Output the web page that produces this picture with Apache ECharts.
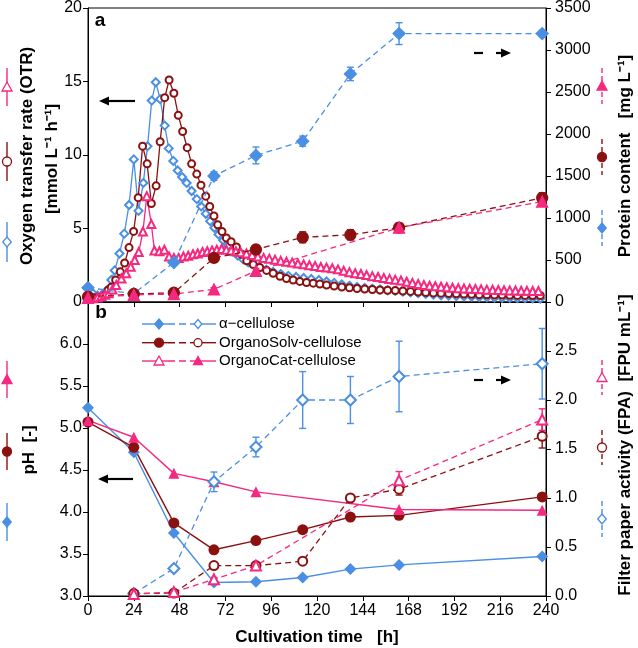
<!DOCTYPE html>
<html><head><meta charset="utf-8">
<script src="https://cdn.jsdelivr.net/npm/echarts@6/dist/echarts.min.js"></script>
<style>html,body{margin:0;padding:0;background:#fff}#c{width:638px;height:648px}</style>
</head><body><div id="c"></div>
<script>
// ---------- DATA ----------
const xTicks = [0,24,48,72,96,120,144,168,192,216,240];

// Panel a: Oxygen transfer rate (OTR) [mmol L-1 h-1]
const otrTimeAlpha = [0,2.5,5,7.5,10,12.2,14,16.5,19,21.5,24,26.5,29,31.2,33.4,35.5,37.8,40.2,42.3,44.7,47,49.3,51.7,54.3,57,59.3,61.7,64,66.2,68.4,70.8,73.2,75.8,78.5,81.3,84,87,90,93.5,97,101,105,109,113,117,121,125,129,133,137,141,145,149,153,157,161,165,169,173,177,181,185,189,193,197,201,205,209,213,217,221,225,229,233,237];
const otrAlpha = [0.95,0.6,0.45,0.5,0.8,1.5,2.15,3.3,4.65,6.6,9.7,6.2,8.1,10.6,13.7,14.95,13.8,12.0,10.45,9.6,8.95,8.5,8.1,7.55,7.0,6.5,6.0,5.5,5.05,4.6,4.2,3.8,3.45,3.15,2.9,2.7,2.5,2.35,2.2,2.05,1.9,1.78,1.7,1.63,1.57,1.5,1.4,1.3,1.2,1.1,1.02,0.95,0.9,0.85,0.8,0.76,0.7,0.65,0.6,0.55,0.5,0.46,0.43,0.4,0.38,0.36,0.34,0.32,0.3,0.29,0.28,0.27,0.26,0.25,0.24];

const otrTimeSolv = [0,2.5,5,7.9,10.5,12.2,14.5,16.9,19.2,21.5,23.9,26.3,28.6,31,33.2,35.7,37.8,40.2,42.5,45,47.3,49.6,52,54.3,57,59.2,61.7,63.8,66,68,70.2,72.5,75,77.8,80.5,83.2,86.6,90,93.6,97,100.6,104,107.5,111,114.5,118,121.5,125,129,133,137,141,145,149,153,157,161,165,169,173,177,181,185,189,193,197,201,205,209,213,217,221,225,229,233,237];
const otrSolv = [0.35,0.3,0.3,0.4,0.8,1.0,1.5,2.05,2.65,3.7,4.8,7.1,10.6,9.4,6.7,7.9,10.9,13.9,15.1,14.2,12.7,11.6,10.5,9.4,8.7,7.95,7.2,6.5,5.85,5.25,4.8,4.35,4.1,3.75,3.25,2.8,2.55,2.35,2.15,1.95,1.75,1.6,1.5,1.4,1.33,1.28,1.22,1.15,1.08,1.02,0.97,0.92,0.88,0.85,0.82,0.8,0.78,0.75,0.72,0.68,0.65,0.62,0.6,0.58,0.56,0.54,0.52,0.5,0.49,0.48,0.47,0.46,0.45,0.45,0.44,0.44];

const otrTimeCat = [0,2.5,5,7,9,10.8,12.8,14.8,17.5,20,22.4,24.5,26.6,28.8,30.8,33.2,34.8,37.4,40,42.5,45,47.5,50,52.5,55,57.5,60,62.5,65,67.5,70,72.5,75,77.5,80,83,86,89,92,95,98,101,104,107,110,113,116,119,122,125,128,131,134,137,140,143,146,149,152,155,158,161,164,167,170,173,176,179,182,185,188,191,194,197,200,203,206,209,212,215,218,221,224,227,230,233,236];
const otrCat = [0.3,0.25,0.3,0.4,0.5,0.6,0.85,1.15,1.6,1.95,2.4,2.85,3.4,4.8,7.2,5.3,3.5,3.45,3.55,3.1,3.0,3.0,3.1,3.15,3.25,3.3,3.4,3.45,3.5,3.55,3.6,3.55,3.5,3.45,3.38,3.3,3.2,3.1,3.0,2.95,2.88,2.8,2.74,2.68,2.62,2.56,2.5,2.45,2.38,2.34,2.3,2.22,2.12,2.03,1.96,1.9,1.83,1.76,1.7,1.63,1.57,1.52,1.46,1.38,1.3,1.22,1.16,1.11,1.07,1.04,1.0,0.97,0.94,0.92,0.9,0.88,0.86,0.84,0.83,0.82,0.8,0.79,0.78,0.77,0.76,0.75,0.75];

// Sampling times (protein, pH, FPA)
const sampleTime = [0,24,45,66,88,112.5,137.5,163,238];

// Panel a: protein content [mg L-1]
const proteinAlpha = [170,100,470,1500,1745,1915,2715,3195,3195];
const proteinAlphaErr = [0,0,30,50,100,60,80,130,30];
const proteinSolv = [60,95,110,525,625,770,800,885,1240];
const proteinSolvErr = [0,20,30,40,50,65,60,50,60];
const proteinCat = [50,85,95,150,370,null,null,885,1195];
const proteinCatErr = [0,15,20,20,30,null,null,50,40];

// Panel b: pH [-]
const phAlpha = [5.24,4.71,3.75,3.16,3.17,3.22,3.32,3.37,3.47];
const phSolv = [5.07,4.77,3.87,3.55,3.66,3.79,3.94,3.96,4.18];
const phCat = [5.09,4.89,4.46,4.36,4.24,null,null,4.03,4.02];

// Panel b: filter paper activity (FPA) [FPU mL-1]
const fpaAlpha = [null,0.025,0.28,1.165,1.52,2.0,2.0,2.24,2.37];
const fpaAlphaErr = [null,0,0.03,0.1,0.1,0.29,0.24,0.36,0.36];
const fpaSolv = [null,0.025,0.03,0.31,0.31,0.355,1.0,1.09,1.63];
const fpaSolvErr = [null,0,0,0.02,0.02,0.02,0.02,0.06,0.12];
const fpaCat = [null,0.02,0.04,0.17,0.31,null,null,1.18,1.80];
const fpaCatErr = [null,0,0,0.02,0.03,null,null,0.09,0.11];

const legendNames = ['\u03b1\u2212cellulose','OrganoSolv-cellulose','OrganoCat-cellulose'];

// ---------- STYLE ----------
const BLUE = '#4a8fe3', RED = '#8b1111', PINK = '#f5297f';
const FONT = '"Liberation Sans", Arial, sans-serif';
const DASH = [6,4];

function pairs(t, v) { return t.map((x, i) => [x, v[i]]); }

function otrSeries(t, v, color, symbol, size) {
  return { type:'line', xAxisIndex:0, yAxisIndex:0, data:pairs(t, v), symbol, symbolSize:size,
    showAllSymbol:true, lineStyle:{color, width:1.3}, itemStyle:{color, borderColor:color, borderWidth:1.1}, z:2 };
}
function dashSeries(xi, yi, t, v, color, symbol, size, z) {
  return { type:'line', xAxisIndex:xi, yAxisIndex:yi, data:pairs(t, v), connectNulls:true, symbol, symbolSize:size,
    lineStyle:{color, width:1.3, type:DASH}, itemStyle:{color, borderColor:color, borderWidth:1.3}, z:z||4 };
}
function solidSeries(xi, yi, t, v, color, symbol, size) {
  return { type:'line', xAxisIndex:xi, yAxisIndex:yi, data:pairs(t, v), connectNulls:true, symbol, symbolSize:size,
    lineStyle:{color, width:1.4}, itemStyle:{color}, z:4 };
}
function errSeries(xi, yi, t, v, e, color) {
  const data = [];
  t.forEach((x, i) => { if (v[i] != null && e[i]) data.push([x, v[i] - e[i], v[i] + e[i]]); });
  return { type:'custom', xAxisIndex:xi, yAxisIndex:yi, data, silent:true, z:3,
    encode:{x:0, y:[1,2]},
    renderItem:(params, api) => {
      const x = api.value(0);
      const lo = api.coord([x, api.value(1)]);
      const hi = api.coord([x, api.value(2)]);
      const w = 3.5, st = {stroke:color, lineWidth:1.4};
      return { type:'group', children:[
        {type:'line', shape:{x1:lo[0], y1:lo[1], x2:hi[0], y2:hi[1]}, style:st},
        {type:'line', shape:{x1:lo[0]-w, y1:lo[1], x2:lo[0]+w, y2:lo[1]}, style:st},
        {type:'line', shape:{x1:hi[0]-w, y1:hi[1], x2:hi[0]+w, y2:hi[1]}, style:st}
      ]};
    }
  };
}

// ---------- GRAPHIC HELPERS (annotation only) ----------
function text(x, y, t, font, rot, align) {
  return { type:'text', x, y, rotation:rot||0, z:50,
    style:{ text:t, font, fill:'#000', align:align||'center', verticalAlign:'middle' } };
}
function line(x1, y1, x2, y2, color, w, dash) {
  return { type:'line', z:50, shape:{x1, y1, x2, y2}, style:{ stroke:color, lineWidth:w||1.3, lineDash:dash||null } };
}
function marker(kind, cx, cy, color, filled, s) {
  const st = { fill: filled ? color : '#fff', stroke: color, lineWidth:1.3 };
  const h = s/2;
  if (kind === 'circle') return { type:'circle', z:51, shape:{cx, cy, r:h*0.9}, style:st };
  if (kind === 'diamond') return { type:'polygon', z:51, shape:{points:[[cx,cy-h],[cx+h*0.85,cy],[cx,cy+h],[cx-h*0.85,cy]]}, style:st };
  return { type:'polygon', z:51, shape:{points:[[cx,cy-h],[cx+h,cy+h*0.8],[cx-h,cy+h*0.8]]}, style:st };
}
function vsym(x, y1, y2, kind, color, filled, dashed) {
  return [ line(x, y1, x, y2, color, 1.4, dashed ? [5,3] : null), marker(kind, x, (y1+y2)/2, color, filled, 10) ];
}
function arrowLeft(x1, x2, y) {
  return [ line(x1+8, y, x2, y, '#000', 2.2),
    { type:'polygon', z:50, shape:{points:[[x1,y],[x1+10,y-4.5],[x1+10,y+4.5]]}, style:{fill:'#000'} } ];
}
function arrowRightDashed(x, y) {
  return [ line(x, y, x+9, y, '#000', 2.2), line(x+22, y, x+29, y, '#000', 2.2),
    { type:'polygon', z:50, shape:{points:[[x+37,y],[x+27,y-4.5],[x+27,y+4.5]]}, style:{fill:'#000'} } ];
}

const BOLD = 'bold 17px ' + FONT;
const REG = '15px ' + FONT;
const R90 = Math.PI/2;
let G = [];
G.push(text(100, 21, 'a', 'bold 19px ' + FONT));
G.push(text(101, 313, 'b', 'bold 19px ' + FONT));
// left titles
G.push(text(27, 156, 'Oxygen transfer rate (OTR)', BOLD, R90));
G.push(text(52, 159, '[mmol L\u207b\u00b9 h\u207b\u00b9]', BOLD, R90));
G.push(text(29, 450, 'pH  [-]', BOLD, R90));
// right titles
G.push(text(625, 156, 'Protein content   [mg L\u207b\u00b9]', BOLD, R90));
G.push(text(625, 445, 'Filter paper activity (FPA)  [FPU mL\u207b\u00b9]', BOLD, R90));
// x title
G.push(text(317, 637, 'Cultivation time   [h]', BOLD));
// left symbol keys
G = G.concat(vsym(7, 68, 106, 'triangle', PINK, false, false));
G = G.concat(vsym(7, 142, 181, 'circle', RED, false, false));
G = G.concat(vsym(7, 222, 262, 'diamond', BLUE, false, false));
G = G.concat(vsym(7, 361, 398, 'triangle', PINK, true, false));
G = G.concat(vsym(7, 433, 470, 'circle', RED, true, false));
G = G.concat(vsym(7, 503, 541, 'diamond', BLUE, true, false));
// right symbol keys
G = G.concat(vsym(602, 68, 104, 'triangle', PINK, true, true));
G = G.concat(vsym(602, 139, 175, 'circle', RED, true, true));
G = G.concat(vsym(602, 210, 246, 'diamond', BLUE, true, true));
G = G.concat(vsym(602, 360, 395, 'triangle', PINK, false, true));
G = G.concat(vsym(602, 430, 465, 'circle', RED, false, true));
G = G.concat(vsym(602, 501, 537, 'diamond', BLUE, false, true));
// arrows
G = G.concat(arrowLeft(99, 135, 101));
G = G.concat(arrowRightDashed(474, 53));
G = G.concat(arrowLeft(98, 133, 479));
G = G.concat(arrowRightDashed(474, 380));
// legend in panel b
const legRows = [
  {y:324, c:BLUE, k:'diamond', f1:true, f2:false, name:legendNames[0]},
  {y:342.7, c:RED, k:'circle', f1:true, f2:false, name:legendNames[1]},
  {y:361, c:PINK, k:'triangle', f1:false, f2:true, name:legendNames[2]}
];
legRows.forEach(r => {
  G.push(line(142, r.y, 168, r.y, r.c, 1.4));
  G.push(line(168, r.y, 190, r.y, r.c, 1.4, [7,4]));
  G.push(line(190, r.y, 216, r.y, r.c, 1.4));
  G.push(marker(r.k, 159, r.y, r.c, r.f1, 10));
  G.push(marker(r.k, 198, r.y, r.c, r.f2, 9));
  G.push(text(219, r.y, r.name, REG, 0, 'left'));
});

// ---------- AXES ----------
const lab = { color:'#000', fontSize:16, fontFamily:FONT };
const axLine = { show:true, lineStyle:{color:'#000', width:1} };
const axTick = { show:true, length:5, inside:false, lineStyle:{color:'#000', width:1} };

const option = {
  animation:false,
  backgroundColor:'#fff',
  grid:[
    {left:88, top:8, width:458, height:294, show:true, borderColor:'#000', borderWidth:1},
    {left:88, top:302, width:458, height:294, show:true, borderColor:'#000', borderWidth:1}
  ],
  xAxis:[
    {gridIndex:0, type:'value', min:0, max:240, interval:24, axisLine:axLine, axisTick:axTick, axisLabel:{show:false}, splitLine:{show:false}},
    {gridIndex:1, type:'value', min:0, max:240, interval:24, axisLine:axLine, axisTick:axTick,
      axisLabel:Object.assign({margin:7, formatter:v => xTicks.includes(v) ? String(v) : ''}, lab), splitLine:{show:false}}
  ],
  yAxis:[
    {gridIndex:0, type:'value', position:'left', min:0, max:20, interval:5, axisLine:axLine, axisTick:axTick,
      axisLabel:Object.assign({margin:6, formatter:v => String(v)}, lab), splitLine:{show:false}},
    {gridIndex:0, type:'value', position:'right', min:0, max:3500, interval:500, axisLine:axLine, axisTick:axTick,
      axisLabel:Object.assign({margin:9, formatter:v => String(v)}, lab), splitLine:{show:false}},
    {gridIndex:1, type:'value', position:'left', min:3, max:6.5, interval:0.5, axisLine:axLine, axisTick:axTick,
      axisLabel:Object.assign({margin:6, formatter:v => v >= 6.5 ? '' : v.toFixed(1)}, lab), splitLine:{show:false}},
    {gridIndex:1, type:'value', position:'right', min:0, max:3, interval:0.5, axisLine:axLine, axisTick:axTick,
      axisLabel:Object.assign({margin:9, formatter:v => v >= 3 ? '' : v.toFixed(1)}, lab), splitLine:{show:false}}
  ],
  series:[
    otrSeries(otrTimeAlpha, otrAlpha, BLUE, 'emptyDiamond', 8),
    otrSeries(otrTimeSolv, otrSolv, RED, 'emptyCircle', 7),
    otrSeries(otrTimeCat, otrCat, PINK, 'emptyTriangle', 8),
    errSeries(0, 1, sampleTime, proteinAlpha, proteinAlphaErr, BLUE),
    errSeries(0, 1, sampleTime, proteinSolv, proteinSolvErr, RED),
    errSeries(0, 1, sampleTime, proteinCat, proteinCatErr, PINK),
    dashSeries(0, 1, sampleTime, proteinAlpha, BLUE, 'diamond', 12),
    dashSeries(0, 1, sampleTime, proteinSolv, RED, 'circle', 11),
    dashSeries(0, 1, sampleTime, proteinCat, PINK, 'triangle', 11),
    solidSeries(1, 2, sampleTime, phAlpha, BLUE, 'diamond', 12),
    solidSeries(1, 2, sampleTime, phSolv, RED, 'circle', 11),
    solidSeries(1, 2, sampleTime, phCat, PINK, 'triangle', 11),
    errSeries(1, 3, sampleTime, fpaAlpha, fpaAlphaErr, BLUE),
    errSeries(1, 3, sampleTime, fpaSolv, fpaSolvErr, RED),
    errSeries(1, 3, sampleTime, fpaCat, fpaCatErr, PINK),
    dashSeries(1, 3, sampleTime, fpaAlpha, BLUE, 'emptyDiamond', 11, 5),
    dashSeries(1, 3, sampleTime, fpaSolv, RED, 'emptyCircle', 9, 5),
    dashSeries(1, 3, sampleTime, fpaCat, PINK, 'emptyTriangle', 10, 5)
  ],
  graphic:G
};

const chart = echarts.init(document.getElementById('c'), null, {renderer:'canvas'});
chart.setOption(option);
</script></body></html>
